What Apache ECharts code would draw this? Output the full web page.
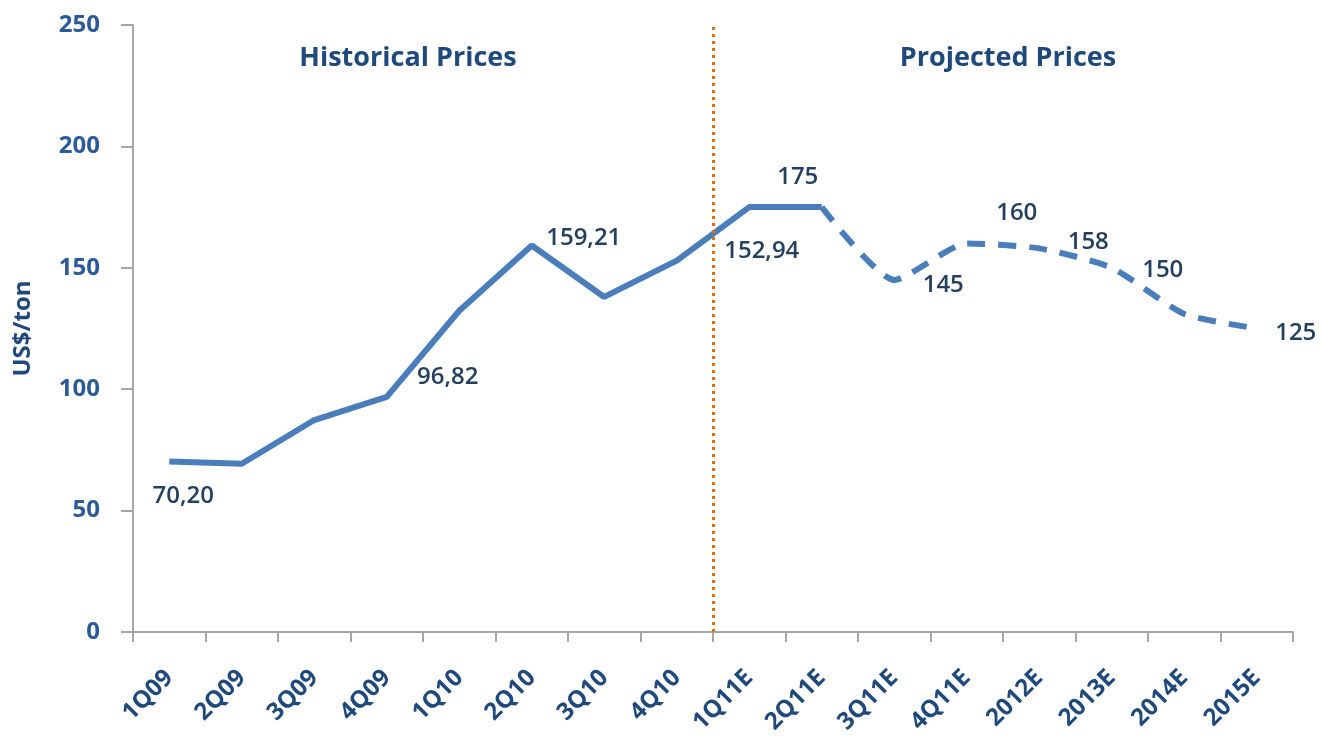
<!DOCTYPE html>
<html>
<head>
<meta charset="utf-8">
<script src="https://cdn.jsdelivr.net/npm/echarts@6/dist/echarts.min.js"></script>
<style>
  html, body { margin: 0; padding: 0; background: #fff; }
  #chart { width: 1322px; height: 738px; }
</style>
</head>
<body>
<div id="chart"></div>
<script>
// categories along the x axis
const categories = ["1Q09", "2Q09", "3Q09", "4Q09", "1Q10", "2Q10", "3Q10", "4Q10",
  "1Q11E", "2Q11E", "3Q11E", "4Q11E", "2012E", "2013E", "2014E", "2015E"];

// historical (solid) and projected (dashed) prices, US$/ton
const historical = [70.2, 69.3, 87.3, 96.82, 132.3, 159.21, 138, 152.94, 175, 175,
  null, null, null, null, null, null];
const projected = [null, null, null, null, null, null, null, null, null, 175,
  145, 160, 158, 150, 131, 125];

// data label texts (empty = no label)
const histLabels = ["70,20", "", "", "96,82", "", "159,21", "", "152,94", "", "175",
  "", "", "", "", "", ""];
const projLabels = ["", "", "", "", "", "", "", "", "", "",
  "145", "160", "158", "150", "", "125"];

const yTicks = [0, 50, 100, 150, 200, 250];
const splitIndex = 8; // boundary between historical and projected

// label nudges, like manual moves in the source chart
const histOffsets = [[14, 35], 0, 0, [61, -20], 0, [52, -7], 0, [85, -10], 0, [-24, -30]];
const projOffsets = { 10: [49, 5], 11: [50, -30], 12: [49, -6], 13: [51, 2], 15: [39, 5] };

const blue = "#4A7EBB";
const textBlue = "#1F497D";
const font = "'Open Sans'";
const labelFont = { fontFamily: font, fontSize: 24, color: "#243F60", fontWeight: 600 };

const withLabels = (values, texts, offsets) =>
  values.map((v, i) => {
    if (v == null) return null;
    if (!texts[i]) return { value: v, label: { show: false } };
    return {
      value: v,
      label: {
        show: true,
        position: "inside",
        offset: offsets[i],
        formatter: texts[i],
        ...labelFont,
      },
    };
  });

const chart = echarts.init(document.getElementById("chart"));
chart.setOption({
  animation: false,
  title: [
    {
      text: "Historical Prices",
      left: 403,
      top: 40,
      textAlign: "center",
      textStyle: { fontFamily: font, fontSize: 27, fontWeight: "bold", color: textBlue },
    },
    {
      text: "Projected Prices",
      left: 1003,
      top: 40,
      textAlign: "center",
      textStyle: { fontFamily: font, fontSize: 27, fontWeight: "bold", color: textBlue },
    },
  ],
  grid: {
    left: 133,
    right: 29,
    top: 25,
    bottom: 106,
    containLabel: false,
    outerBoundsMode: "none",
  },
  xAxis: [
    {
      type: "category",
      data: categories,
      boundaryGap: true,
      axisLine: { lineStyle: { color: "#A6A6A6", width: 2 } },
      axisTick: { show: true, length: 10, lineStyle: { color: "#A6A6A6", width: 2 } },
      axisLabel: {
        rotate: 45,
        margin: 42,
        interval: 0,
        fontFamily: font,
        fontSize: 24,
        fontWeight: "bold",
        color: textBlue,
      },
      splitLine: { show: false },
    },
    {
      type: "value",
      min: 0,
      max: categories.length,
      show: false,
    },
  ],
  yAxis: {
    type: "value",
    min: yTicks[0],
    max: yTicks[yTicks.length - 1],
    interval: 50,
    name: "US$/ton",
    nameLocation: "middle",
    nameGap: 98,
    nameTextStyle: { fontFamily: font, fontSize: 24, fontWeight: "bold", color: textBlue },
    axisLine: { show: true, lineStyle: { color: "#A6A6A6", width: 2 } },
    axisTick: { show: true, length: 12, lineStyle: { color: "#A6A6A6", width: 2 } },
    axisLabel: {
      margin: 33,
      fontFamily: font,
      fontSize: 24,
      fontWeight: "bold",
      color: "#2A5A9A",
    },
    splitLine: { show: false },
  },
  series: [
    {
      name: "Historical",
      type: "line",
      data: withLabels(historical, histLabels, histOffsets),
      symbol: "circle",
      symbolSize: 1,
      itemStyle: { color: "transparent" },
      lineStyle: { color: blue, width: 6 },
      connectNulls: false,
      z: 3,
    },
    {
      name: "Projected",
      type: "line",
      data: withLabels(projected, projLabels, projOffsets),
      smooth: 0.2,
      symbol: "circle",
      symbolSize: 1,
      itemStyle: { color: "transparent" },
      lineStyle: { color: blue, width: 6, type: [18, 13] },
      z: 3,
    },
    {
      name: "divider",
      type: "line",
      xAxisIndex: 1,
      data: [],
      markLine: {
        silent: true,
        symbol: ["none", "none"],
        label: { show: false },
        lineStyle: { color: "#E46C0A", width: 3, type: [3, 4] },
        data: [{ xAxis: splitIndex }],
      },
    },
  ],
});
</script>
</body>
</html>
